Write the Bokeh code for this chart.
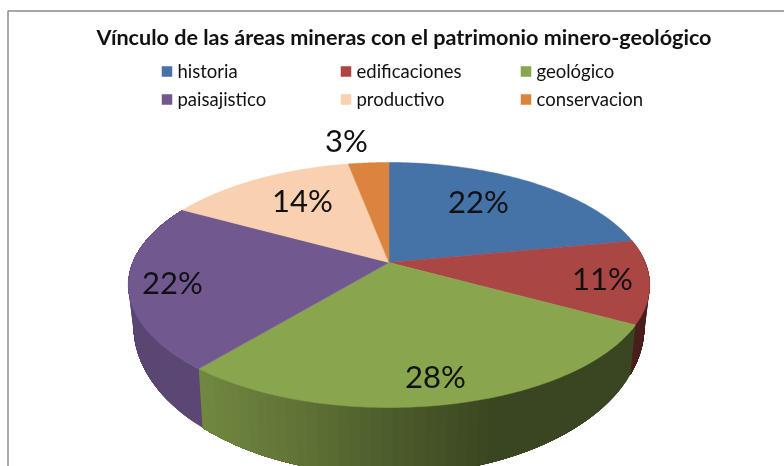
import numpy as np
from bokeh.plotting import figure
from bokeh.embed import file_html
from bokeh.resources import INLINE
from bokeh.core.properties import value

TITLE = "Vínculo de las áreas mineras con el patrimonio minero-geológico"
categories = ["historia", "edificaciones", "geológico", "paisajistico", "productivo", "conservacion"]
shares = [22, 11, 28, 22, 14, 3]
labels = ["22%", "11%", "28%", "22%", "14%", "3%"]
colors = ["#4572a7", "#aa4644", "#89a54e", "#71588f", "#f9d0b0", "#db843d"]

LABEL_XY = [(478, 200), (602, 277), (435, 375), (172, 281), (302, 199), (346, 139)]
LEGEND_XY = [(161, 70), (340, 70), (520, 70), (161, 98), (340, 98), (520, 98)]

CX, CY, A, B, P = 388.5, 262.0, 256.3, 118.4, 0.1837
WALL_CY, WALL_B, WALL_K = 298.0, 144.0, 0.98


def top_point(t):
    X, Y = np.sin(t), np.cos(t)
    w = 1 + P * Y
    return CX + A * X / w, CY - B * Y / w


def low_point(t):
    X, Y = np.sin(t), np.cos(t)
    w = 1 + P * Y
    return CX + WALL_K * A * X / w, WALL_CY - WALL_B * Y / w


def rgb(hexc, s):
    c = [int(hexc[i:i + 2], 16) for i in (1, 3, 5)]
    return "#%02x%02x%02x" % tuple(int(min(255, v * s)) for v in c)


p = figure(width=784, height=466, x_range=(0, 784), y_range=(466, 0),
           toolbar_location=None, output_backend="svg", min_border=0,
           outline_line_color=None, background_fill_color="white",
           styles={"position": "fixed", "left": "0px", "top": "0px"})
p.axis.visible = False
p.grid.visible = False

# chart frame
p.line([784, 7.5, 7.5], [10.5, 10.5, 466], line_color="#8c8c8c", line_width=1.5)

fr = np.cumsum([0] + shares) / sum(shares) * 2 * np.pi

# side wall strips: each reaches under its neighbour so that no seam shows
for i, c in enumerate(colors):
    lo, hi = fr[i], fr[i + 1]
    if np.cos((lo + hi) / 2) > 0.5:
        continue
    n = max(2, int((hi - lo) / np.radians(2)))
    ts = np.linspace(lo, hi, n + 1)
    sx, sy, sc = [], [], []
    for a, b in zip(ts[:-1], ts[1:]):
        tt = np.linspace(a, hi, 40)
        tx, ty = top_point(tt)
        lx, ly = low_point(tt)
        mx = top_point((a + b) / 2)[0]
        s = np.interp(mx, [130, 203, 300, 390, 490, 640], [0.80, 0.82, 0.70, 0.56, 0.43, 0.43])
        sx.append(list(tx) + list(lx[::-1]))
        sy.append(list(ty) + list(ly[::-1]))
        sc.append(rgb(c, s))
    p.patches(sx, sy, fill_color=sc, line_color=None)

# top faces
xs, ys = [], []
for i in range(len(shares)):
    ts = np.linspace(fr[i], fr[i + 1], 80)
    px, py = top_point(ts)
    xs.append([CX] + list(px))
    ys.append([CY] + list(py))
p.patches(xs, ys, fill_color=colors, line_color=colors, line_width=0.5)

# data labels
p.text([q[0] for q in LABEL_XY], [q[1] for q in LABEL_XY], text=labels,
       text_font=value("Lato"), text_font_size="31px", text_color="#111111",
       text_align="center", text_baseline="middle")

# title
p.text([403.5], [36], text=[TITLE], text_font=value("Lato"), text_font_style="bold",
       text_font_size="21.6px", text_color="#111111", text_align="center", text_baseline="middle")

# legend
p.scatter([q[0] + 5.5 for q in LEGEND_XY], [q[1] + 1 for q in LEGEND_XY], marker="square", size=10.5,
          fill_color=colors, line_color=colors, line_width=0)
p.text([q[0] + 16 for q in LEGEND_XY], [q[1] for q in LEGEND_XY], text=categories,
       text_font=value("Lato"), text_font_size="18.5px", text_color="#111111",
       text_align="left", text_baseline="middle")

open("out.html", "w").write(file_html(p, INLINE))
